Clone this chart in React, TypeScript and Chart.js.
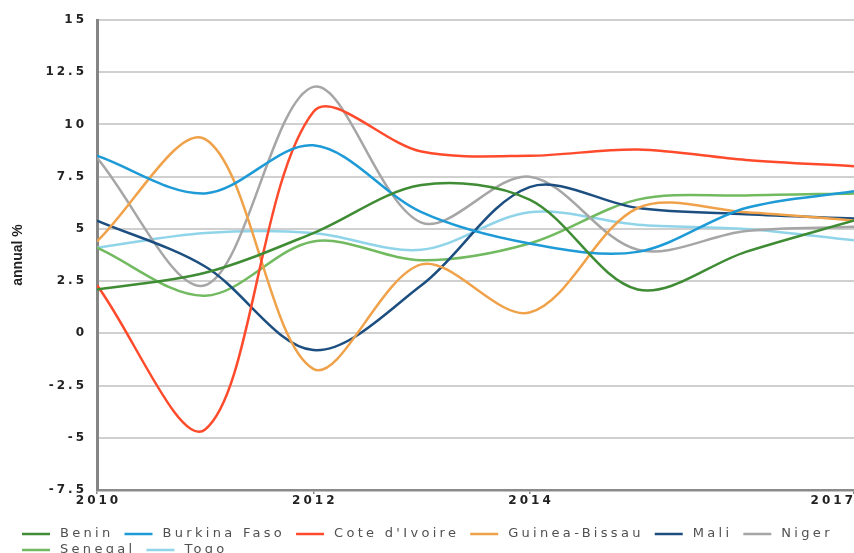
import React, { useEffect, useRef } from "react";
import { Chart, registerables } from "chart.js";

Chart.register(...registerables);

const years = [2010, 2011, 2012, 2013, 2014, 2015, 2016, 2017];
const xTickYears = [2010, 2012, 2014, 2017];

const benin = [2.1, 2.9, 4.8, 7.1, 6.4, 2.1, 3.9, 5.4];
const burkinaFaso = [8.5, 6.7, 9.0, 5.8, 4.3, 3.9, 6.0, 6.8];
const coteDIvoire = [2.3, -4.6, 10.6, 8.7, 8.5, 8.8, 8.3, 8.0];
const guineaBissau = [4.4, 9.3, -1.7, 3.3, 1.0, 6.0, 5.8, 5.4];
const mali = [5.4, 3.2, -0.8, 2.3, 7.0, 6.0, 5.7, 5.5];
const niger = [8.4, 2.3, 11.8, 5.3, 7.5, 4.0, 4.9, 5.1];
const senegal = [4.1, 1.8, 4.4, 3.5, 4.3, 6.4, 6.6, 6.7];
const togo = [4.1, 4.8, 4.8, 4.0, 5.8, 5.2, 5.0, 4.45];

const seriesNames = ["Benin", "Burkina Faso", "Cote d'Ivoire", "Guinea-Bissau", "Mali", "Niger", "Senegal", "Togo"];
const seriesValues = [benin, burkinaFaso, coteDIvoire, guineaBissau, mali, niger, senegal, togo];
const seriesColors = ["#3f8c35", "#1e9bd7", "#ff4a2c", "#f0a24a", "#1c4e7f", "#a6a6a6", "#72ba60", "#90d4ea"];

const yTitle = "annual %";

export default function App() {
  const ref = useRef<HTMLCanvasElement | null>(null);

  useEffect(() => {
    document.body.style.margin = "0";
    const canvas = ref.current!;
    const spacingPlugin = {
      id: "spacing",
      beforeLayout(chart: any) {
        chart.ctx.letterSpacing = "3px";
      },
      beforeDraw(chart: any) {
        chart.ctx.letterSpacing = "3px";
      },
      afterDraw(chart: any) {
        const ctx = chart.ctx;
        const area = chart.chartArea;
        // x tick labels (kept inside the canvas)
        const xs = chart.scales.x;
        ctx.save();
        ctx.letterSpacing = "3px";
        ctx.font = "bold 12px 'DejaVu Sans', sans-serif";
        ctx.fillStyle = "#222";
        ctx.textAlign = "left";
        ctx.textBaseline = "top";
        xTickYears.forEach((v) => {
          const label = String(v);
          const w = ctx.measureText(label).width;
          const px = xs.getPixelForValue(v);
          let left = px - w / 2 + 1.5;
          left = Math.max(0, Math.min(left, chart.width - w + 2));
          ctx.fillText(label, left, area.bottom + 5);
        });
        ctx.restore();
        // y title
        ctx.save();
        ctx.letterSpacing = "0px";
        ctx.font = "bold 14px 'Liberation Sans Narrow', 'Liberation Sans', sans-serif";
        ctx.fillStyle = "#222";
        ctx.textAlign = "center";
        ctx.textBaseline = "middle";
        ctx.translate(18, (area.top + area.bottom) / 2);
        ctx.rotate(-Math.PI / 2);
        ctx.fillText(yTitle, 0, 0);
        ctx.restore();
        // legend
        ctx.save();
        ctx.letterSpacing = "3.3px";
        ctx.font = "13px 'DejaVu Sans', sans-serif";
        ctx.textBaseline = "middle";
        ctx.textAlign = "left";
        const startX = 22;
        let x = startX;
        let y = 534;
        chart.data.datasets.forEach((ds: any) => {
          const w = ctx.measureText(ds.label).width;
          if (x + 38 + w > chart.width && x > startX) {
            x = startX;
            y += 16;
          }
          ctx.strokeStyle = ds.borderColor;
          ctx.lineWidth = 2.5;
          ctx.beginPath();
          ctx.moveTo(x, y);
          ctx.lineTo(x + 28, y);
          ctx.stroke();
          ctx.fillStyle = "#505050";
          ctx.fillText(ds.label, x + 38, y);
          x += 38 + w + 11;
        });
        ctx.restore();
      },
    };

    const chart = new Chart(canvas, {
      type: "line",
      data: {
        datasets: seriesNames.map((name, i) => ({
          label: name,
          data: years.map((yr, j) => ({ x: yr, y: seriesValues[i][j] })),
          borderColor: seriesColors[i],
          backgroundColor: seriesColors[i],
          borderWidth: 2.5,
          pointRadius: 0,
          tension: 0.33,
          fill: false,
        })),
      },
      options: {
        responsive: false,
        animation: false,
        layout: { padding: { left: 0, right: 0, top: 20, bottom: 41 } },
        plugins: { legend: { display: false }, tooltip: { enabled: false } },
        scales: {
          x: {
            type: "linear",
            min: 2010,
            max: 2017,
            afterBuildTicks: (scale: any) => {
              scale.ticks = xTickYears.map((v) => ({ value: v }));
            },
            afterFit: (scale: any) => {
              scale.height = 22;
              scale.paddingLeft = 0;
              scale.paddingRight = 0;
            },
            grid: { drawOnChartArea: false, drawTicks: true, tickLength: 4, color: "#888", lineWidth: 1.5 },
            border: { color: "#8a8a8a", width: 2.5 },
            ticks: { display: false },
          },
          y: {
            min: -7.5,
            max: 15,
            afterFit: (scale: any) => {
              scale.width = 97;
            },
            ticks: {
              stepSize: 2.5,
              padding: 10,
              color: "#222",
              font: { family: "'DejaVu Sans', sans-serif", size: 12, weight: "bold" },
            },
            grid: { drawTicks: false, color: "#d0d0d0", lineWidth: 2 },
            border: { color: "#858585", width: 3 },
          },
        },
      },
      plugins: [spacingPlugin],
    } as any);
    return () => chart.destroy();
  }, []);

  return (
    <div style={{ width: 854, height: 553 }}>
      <canvas ref={ref} width={854} height={553} style={{ display: "block" }} />
    </div>
  );
}
